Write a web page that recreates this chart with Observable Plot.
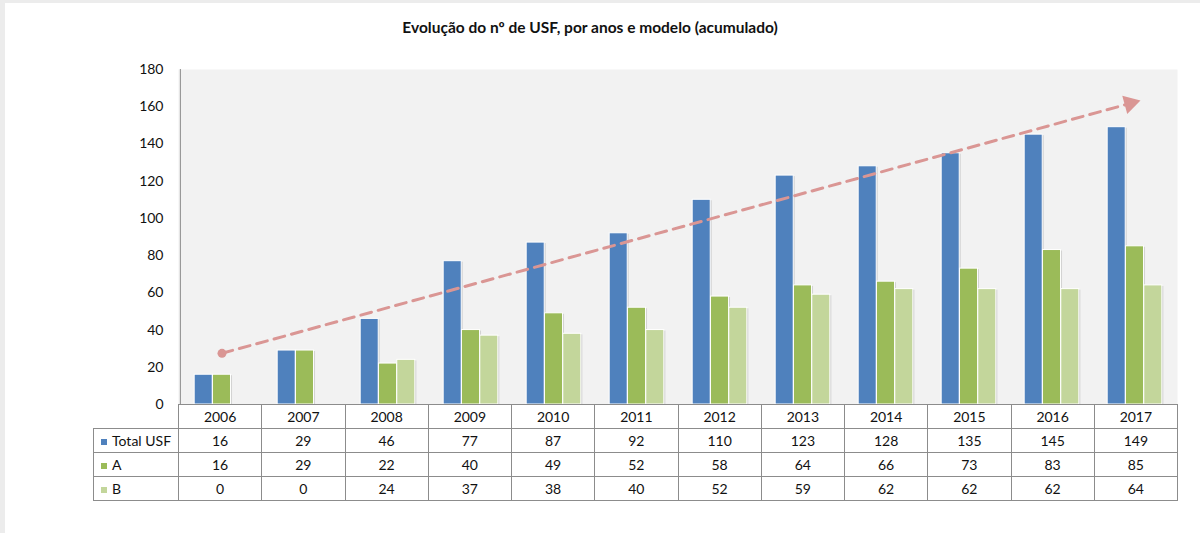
<!DOCTYPE html>
<html>
<head>
<meta charset="utf-8">
<script src="https://cdn.jsdelivr.net/npm/d3@7"></script>
<script src="https://cdn.jsdelivr.net/npm/@observablehq/plot@0.6"></script>
<style>
  body { margin: 0; background: #fff; font-family: Lato, "Open Sans", sans-serif; }
  #wrap { position: relative; width: 1200px; height: 533px; overflow: hidden; }
  #topstrip { position: absolute; left: 0; top: 0; width: 1200px; height: 3px; background: #ececec; }
  #leftstrip { position: absolute; left: 0; top: 0; width: 5px; height: 533px; background: #ececec; }
  #title { position: absolute; top: 18px; left: 0; width: 1180px; text-align: center; font-weight: bold; font-size: 15.5px; color: #111; }
  #chart { position: absolute; top: 50px; left: 0; }
  #tbl { position: absolute; top: 404px; left: 93px; border-collapse: collapse; table-layout: fixed; font-size: 14px; color: #111; }
  #tbl td { border: 1px solid #8c8c8c; padding: 0; height: 23px; text-align: center; background: #fff; }
  #tbl td.lab { text-align: left; padding-left: 7px; }
  #tbl td.blank { border-top: none; border-left: none; background: transparent; }
  .sw { display: inline-block; width: 6px; height: 6px; margin-right: 5px; vertical-align: 1px; }
</style>
</head>
<body>
<div id="wrap">
  <div id="topstrip"></div>
  <div id="leftstrip"></div>
  <div id="title">Evolução do nº de USF, por anos e modelo (acumulado)</div>
  <div id="chart"></div>
  <table id="tbl"></table>
</div>
<script>
const years = ["2006","2007","2008","2009","2010","2011","2012","2013","2014","2015","2016","2017"];
const totalUSF = [16, 29, 46, 77, 87, 92, 110, 123, 128, 135, 145, 149];
const modelA   = [16, 29, 22, 40, 49, 52, 58, 64, 66, 73, 83, 85];
const modelB   = [0, 0, 24, 37, 38, 40, 52, 59, 62, 62, 62, 64];
const seriesNames = ["Total USF", "A", "B"];
const seriesColors = ["#4f81bd", "#9bbb59", "#c3d69b"];
const yTicks = [0, 20, 40, 60, 80, 100, 120, 140, 160, 180];
const trendYears = ["2006", "2017"];
const trendValues = [27.5, 162.5];

const seriesValues = [totalUSF, modelA, modelB];
const W = 1200, mL = 178, mR = 23, mT = 19, mB = 14;
const H = 354 + mB;
const bw = (W - mL - mR) / years.length;
const barW = 18.3;

const marks = [Plot.frame({fill: "#f2f2f2", stroke: null})];
seriesValues.forEach((vals, i) => {
  const data = years.map((y, j) => ({year: y, value: vals[j]}));
  const insetLeft = bw / 2 - 1.5 * barW + i * barW;
  const insetRight = bw - insetLeft - barW;
  marks.push(Plot.barY(data, {x: "year", y: "value", fill: "#d2d2d2", insetLeft: insetLeft + 1.5, insetRight: insetRight - 1.5, dy: 1}));
  marks.push(Plot.barY(data, {x: "year", y: "value", fill: seriesColors[i], stroke: "white", strokeWidth: 1, insetLeft, insetRight}));
});
const trend = trendYears.map((y, i) => ({year: y, value: trendValues[i]}));
marks.push(Plot.line(trend, {x: "year", y: "value", stroke: "#da9694", strokeWidth: 3, strokeDasharray: "11,7"}));
marks.push(Plot.dot([trend[0]], {x: "year", y: "value", r: 4.5, fill: "#da9694", stroke: null}));
marks.push(Plot.dot([trend[1]], {x: "year", y: "value", symbol: "triangle", r: 7, rotate: 74.7, fill: "#da9694", stroke: null, dx: -5, dy: 1.4}));
marks.push(Plot.ruleX([years[0]], {y1: 0, y2: 180, dx: -bw / 2, stroke: "#8c8c8c"}));
marks.push(Plot.axisY({ticks: yTicks, tickSize: 0, tickPadding: 15, fontSize: 14, label: null}));

const chart = Plot.plot({
  width: W, height: H,
  marginLeft: mL, marginRight: mR, marginTop: mT, marginBottom: mB,
  style: {fontFamily: "Lato, 'Open Sans', sans-serif", fontSize: "14px", color: "#111", background: "transparent"},
  x: {domain: years, padding: 0, axis: null},
  y: {domain: [0, 180], axis: null},
  marks
});
document.getElementById("chart").appendChild(chart);

// data table below the chart
const tbl = document.getElementById("tbl");
const colg = document.createElement("colgroup");
const c0 = document.createElement("col"); c0.style.width = (mL - 93) + "px"; colg.appendChild(c0);
years.forEach(() => { const c = document.createElement("col"); c.style.width = bw + "px"; colg.appendChild(c); });
tbl.appendChild(colg);
const hr = document.createElement("tr");
const blank = document.createElement("td"); blank.className = "blank"; hr.appendChild(blank);
years.forEach(y => { const td = document.createElement("td"); td.textContent = y; hr.appendChild(td); });
tbl.appendChild(hr);
seriesNames.forEach((name, i) => {
  const tr = document.createElement("tr");
  const lab = document.createElement("td"); lab.className = "lab";
  const sw = document.createElement("span"); sw.className = "sw"; sw.style.background = seriesColors[i];
  lab.appendChild(sw); lab.appendChild(document.createTextNode(name));
  tr.appendChild(lab);
  seriesValues[i].forEach(v => { const td = document.createElement("td"); td.textContent = v; tr.appendChild(td); });
  tbl.appendChild(tr);
});
</script>
</body>
</html>
